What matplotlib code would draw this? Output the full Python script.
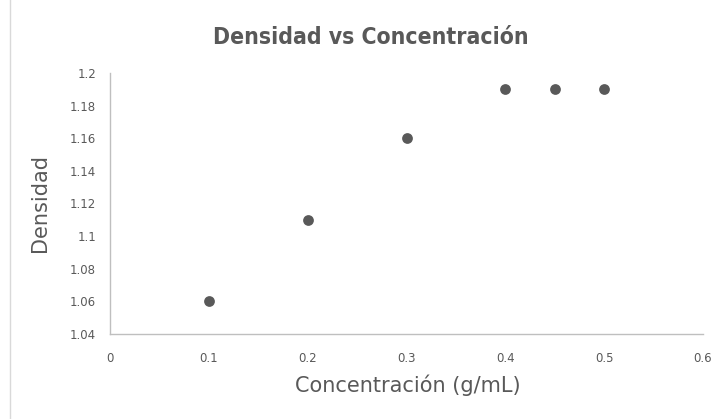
import matplotlib
matplotlib.use("Agg")
import matplotlib.pyplot as plt
from matplotlib.lines import Line2D

concentracion = [0.1, 0.2, 0.3, 0.4, 0.45, 0.5]
densidad = [1.06, 1.11, 1.16, 1.19, 1.19, 1.19]
xticks = [0, 0.1, 0.2, 0.3, 0.4, 0.5, 0.6]
yticks = [1.04, 1.06, 1.08, 1.1, 1.12, 1.14, 1.16, 1.18, 1.2]
xticklabels = ["0", "0.1", "0.2", "0.3", "0.4", "0.5", "0.6"]
yticklabels = ["1.04", "1.06", "1.08", "1.1", "1.12", "1.14", "1.16", "1.18", "1.2"]

W, H = 723, 419
fig = plt.figure(figsize=(W/100, H/100), dpi=100)
ax = fig.add_axes([110/W, 1-334/H, (703-110)/W, (334-73)/H])

txt = "#595959"
ax.scatter(concentracion, densidad, s=60, color="#595959", zorder=3, linewidths=0)
ax.set_xlim(0, 0.6)
ax.set_ylim(1.04, 1.2)
ax.set_xticks(xticks)
ax.set_xticklabels(xticklabels)
ax.set_yticks(yticks)
ax.set_yticklabels(yticklabels)
ax.tick_params(length=0, labelsize=8.5, colors=txt)
ax.tick_params(axis='x', pad=13)
ax.tick_params(axis='y', pad=10)
for s in ["top", "right"]:
    ax.spines[s].set_visible(False)
for s in ["left", "bottom"]:
    ax.spines[s].set_color("#bfbfbf")
    ax.spines[s].set_linewidth(1)

fig.text(371/W, 1-38/H, "Densidad vs Concentración", ha="center", va="center",
         fontsize=16.5, fontweight="bold", color=txt, fontstretch="condensed")
fig.text(408/W, 1-385/H, "Concentración (g/mL)", ha="center", va="center",
         fontsize=15, color=txt)
fig.text(40/W, 1-203/H, "Densidad", ha="center", va="center", rotation=90,
         fontsize=15, color=txt)

fig.add_artist(Line2D([10/W, 10/W], [0, 1], transform=fig.transFigure,
                      color="#d9d9d9", linewidth=1))

fig.savefig("out.png", dpi=100)
